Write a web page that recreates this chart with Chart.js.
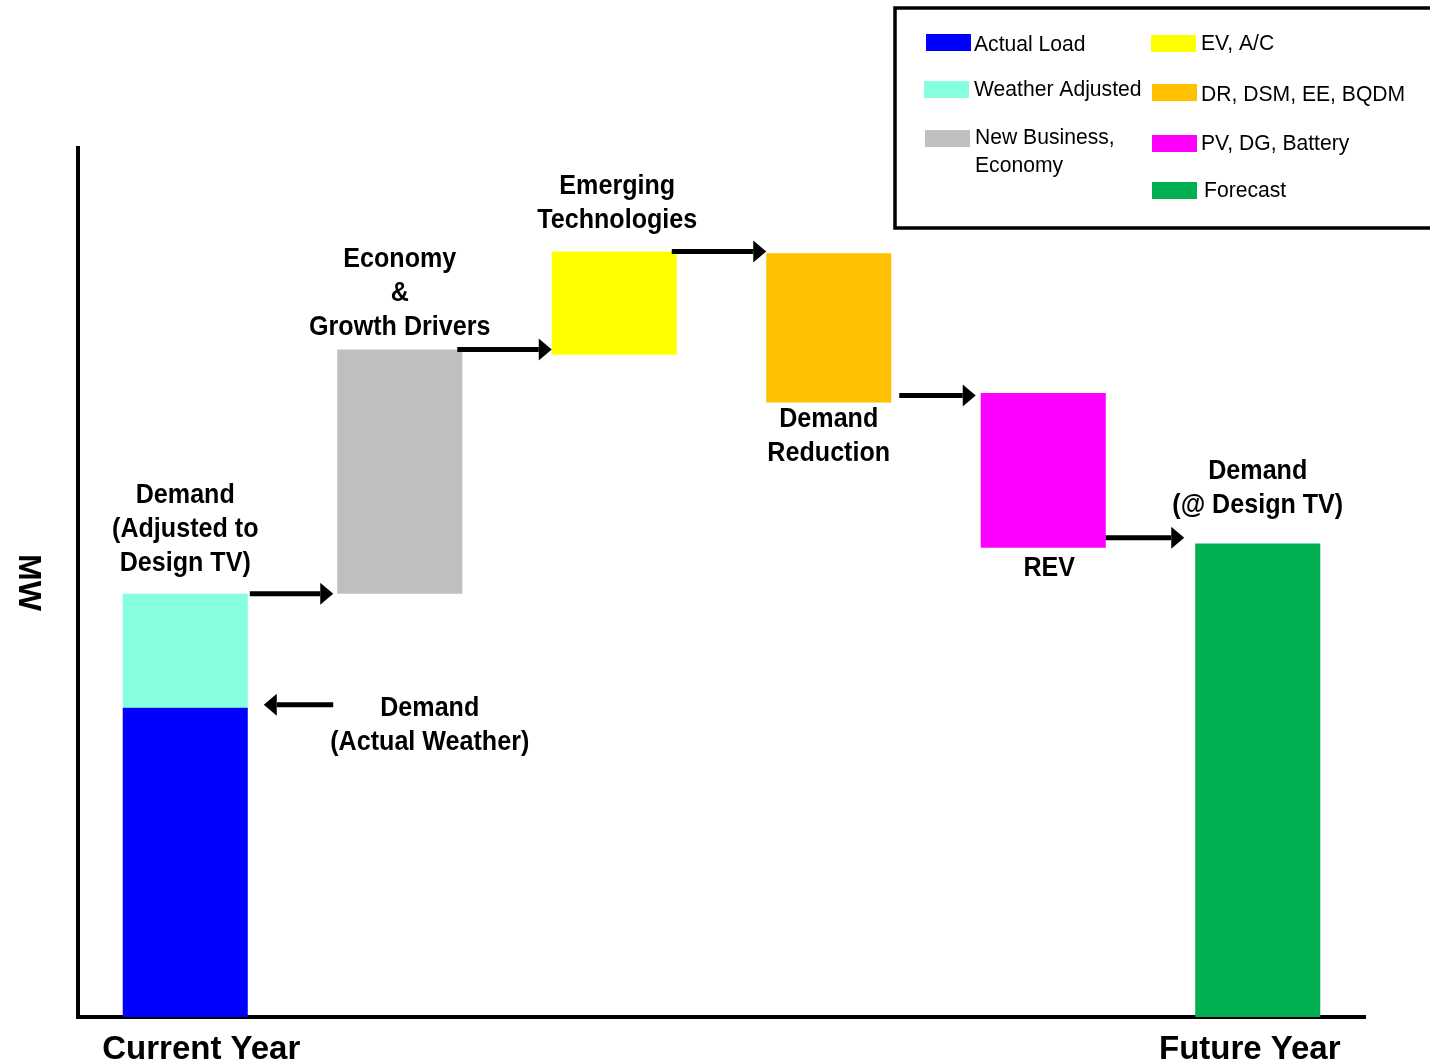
<!DOCTYPE html>
<html>
<head>
<meta charset="utf-8">
<title>Demand waterfall</title>
<script src="https://cdn.jsdelivr.net/npm/chart.js@4.4.1/dist/chart.umd.min.js"></script>
<style>
  html, body { margin: 0; padding: 0; background: #fff; }
  #wrap { width: 1430px; height: 1063px; }
</style>
</head>
<body>
<div id="wrap"><canvas id="chart" width="1430" height="1063"></canvas></div>
<script>
// steps along the x axis
const categories = ['Current Year', 'Economy & Growth Drivers', 'Emerging Technologies', 'Demand Reduction', 'REV', 'Future Year'];

// series (floating bars: [from, to] in MW, relative units)
const seriesNames = ['Actual Load', 'Weather Adjusted', 'New Business,\nEconomy', 'EV, A/C', 'DR, DSM, EE, BQDM', 'PV, DG, Battery', 'Forecast'];
const seriesColors = ['#0000FF', '#86FFDE', '#BFBFBF', '#FFFF00', '#FFC000', '#FF00FF', '#00B050'];
const actualLoad      = [[0, 35.6], null, null, null, null, null];
const weatherAdjusted = [[35.6, 48.7], null, null, null, null, null];
const newBusiness     = [null, [48.7, 76.8], null, null, null, null];
const evAc            = [null, null, [76.2, 88.1], null, null, null];
const demandReduction = [null, null, null, [70.7, 87.9], null, null];
const pvDgBattery     = [null, null, null, null, [54.0, 71.8], null];
const forecast        = [null, null, null, null, null, [0, 54.5]];

const yMin = 0;
const yMax = 100;

const FONT = "'Liberation Sans', Arial, sans-serif";
const BAR_PCT = 0.583;

function drawText(ctx, text, x, y, font, sx, align) {
    ctx.save();
    ctx.translate(x, y);
    ctx.scale(sx, 1);
    ctx.font = font;
    ctx.textAlign = align || 'center';
    ctx.textBaseline = 'middle';
    ctx.fillStyle = '#000';
    ctx.fillText(text, 0, 0);
    ctx.restore();
}

function drawArrow(ctx, x1, x2, y) {
    const dir = x2 > x1 ? 1 : -1;
    const head = 13;
    ctx.save();
    ctx.strokeStyle = '#000';
    ctx.fillStyle = '#000';
    ctx.lineWidth = 5;
    ctx.beginPath();
    ctx.moveTo(x1, y);
    ctx.lineTo(x2 - dir * head, y);
    ctx.stroke();
    ctx.beginPath();
    ctx.moveTo(x2, y);
    ctx.lineTo(x2 - dir * head, y - 11);
    ctx.lineTo(x2 - dir * head, y + 11);
    ctx.closePath();
    ctx.fill();
    ctx.restore();
}

// labels sitting next to the bars (dy = pixel offset of first line from the anchor value)
const notes = [
    { cat: 0, value: weatherAdjusted[0][1], dx: 0, dy: -98, lines: ['Demand', '(Adjusted to', 'Design TV)'] },
    { cat: 1, value: newBusiness[1][1], dx: 0, dy: -90, lines: ['Economy', '&', 'Growth Drivers'] },
    { cat: 2, value: evAc[2][1], dx: 3, dy: -65, lines: ['Emerging', 'Technologies'] },
    { cat: 3, value: demandReduction[3][0], dx: 0, dy: 17, lines: ['Demand', 'Reduction'] },
    { cat: 4, value: pvDgBattery[4][0], dx: 6, dy: 21, lines: ['REV'] },
    { cat: 5, value: forecast[5][1], dx: 0, dy: -72, lines: ['Demand', '(@ Design TV)'] },
    { cat: 1, value: actualLoad[0][1], dx: 30, dy: 1, lines: ['Demand', '(Actual Weather)'] }
];

// connector arrows between the steps
const arrows = [
    { from: 0, to: 1, value: weatherAdjusted[0][1], dy: 0, s: 2, e: -4 },
    { from: 1, to: 2, value: newBusiness[1][1], dy: 0, s: -5, e: 0 },
    { from: 2, to: 3, value: evAc[2][1], dy: 0, s: -5, e: 0 },
    { from: 3, to: 4, value: demandReduction[3][0], dy: -7, s: 8, e: -5 },
    { from: 4, to: 5, value: pvDgBattery[4][0], dy: -10, s: 0, e: -11 }
];

const annotations = {
    id: 'annotations',
    afterDatasetsDraw(chart) {
        const ctx = chart.ctx;
        const x = chart.scales.x;
        const y = chart.scales.y;
        const half = (chart.chartArea.width / categories.length) * BAR_PCT / 2;

        arrows.forEach(a => {
            const x1 = x.getPixelForValue(a.from) + half + a.s;
            const x2 = x.getPixelForValue(a.to) - half + a.e;
            drawArrow(ctx, x1, x2, y.getPixelForValue(a.value) + a.dy);
        });
        // pointer to the actual-weather demand
        const yBlue = y.getPixelForValue(actualLoad[0][1]) - 3;
        drawArrow(ctx, x.getPixelForValue(1) - half - 4, x.getPixelForValue(0) + half + 16, yBlue);

        notes.forEach(n => {
            const cx = x.getPixelForValue(n.cat) + n.dx;
            const top = y.getPixelForValue(n.value) + n.dy;
            n.lines.forEach((line, i) => {
                drawText(ctx, line, cx, top + i * 34, 'bold 27px ' + FONT, 0.93);
            });
        });

        // axis titles
        const bottom = chart.chartArea.bottom;
        drawText(ctx, categories[0], x.getPixelForValue(0) + 16, bottom + 33, 'bold 33px ' + FONT, 1);
        drawText(ctx, categories[5], x.getPixelForValue(5) - 8, bottom + 33, 'bold 33px ' + FONT, 1);
        ctx.save();
        ctx.translate(28, (chart.chartArea.top + bottom) / 2);
        ctx.rotate(Math.PI / 2);
        drawText(ctx, 'MW', 0, 0, 'bold 32px ' + FONT, 1);
        ctx.restore();

        // legend box
        ctx.save();
        ctx.strokeStyle = '#000';
        ctx.lineWidth = 3.5;
        ctx.strokeRect(895, 8, 560, 220);
        ctx.restore();
        const slots = [
            { sx: 926, tx: 974, top: 34, ty: 45 },
            { sx: 924, tx: 974, top: 81, ty: 90 },
            { sx: 925, tx: 975, top: 130, ty: 138 },
            { sx: 1151, tx: 1201, top: 35, ty: 44 },
            { sx: 1152, tx: 1201, top: 84, ty: 95 },
            { sx: 1152, tx: 1201, top: 135, ty: 144 },
            { sx: 1152, tx: 1204, top: 182, ty: 191 }
        ];
        chart.data.datasets.forEach((ds, i) => {
            const s = slots[i];
            ctx.fillStyle = ds.backgroundColor;
            ctx.fillRect(s.sx, s.top, 45, 17);
            ds.label.split('\n').forEach((line, j) => {
                drawText(ctx, line, s.tx, s.ty + j * 28, '22px ' + FONT, 0.96, 'left');
            });
        });
    }
};

const seriesData = [actualLoad, weatherAdjusted, newBusiness, evAc, demandReduction, pvDgBattery, forecast];

new Chart(document.getElementById('chart'), {
    type: 'bar',
    data: {
        labels: categories,
        datasets: seriesData.map((d, i) => ({
            label: seriesNames[i],
            data: d,
            backgroundColor: seriesColors[i],
            borderWidth: 0,
            grouped: false,
            barPercentage: BAR_PCT,
            categoryPercentage: 1
        }))
    },
    options: {
        responsive: false,
        animation: false,
        layout: { padding: { left: 78, top: 148, right: 65, bottom: 46 } },
        plugins: { legend: { display: false }, tooltip: { enabled: false } },
        scales: {
            x: {
                grid: { display: false },
                ticks: { display: false },
                border: { display: true, color: '#000', width: 4 },
                afterFit: s => { s.height = 0; }
            },
            y: {
                min: yMin,
                max: yMax,
                grid: { display: false },
                ticks: { display: false },
                border: { display: true, color: '#000', width: 4 },
                afterFit: s => { s.width = 0; }
            }
        }
    },
    plugins: [annotations]
});
</script>
</body>
</html>
